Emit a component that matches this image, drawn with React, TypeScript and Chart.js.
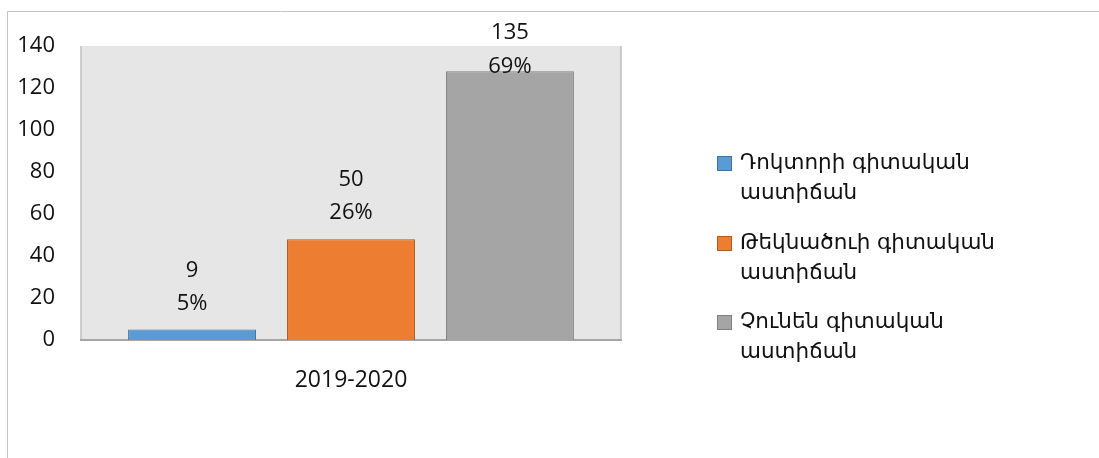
import React, { useEffect, useRef } from "react";
import { Chart, registerables } from "chart.js";

Chart.register(...registerables);

const categories = ["2019-2020"];
const seriesNames = [
  ["Դոկտորի գիտական", "աստիճան"],
  ["Թեկնածուի գիտական", "աստիճան"],
  ["Չունեն գիտական", "աստիճան"],
];
const seriesValues = [5, 48, 128];
const labelCounts = ["9", "50", "135"];
const labelPercents = ["5%", "26%", "69%"];
const fills = ["#5b9bd5", "#ed7d31", "#a5a5a5"];
const borders = ["#41719c", "#ae5a21", "#7f7f7f"];
const yTicks = [0, 20, 40, 60, 80, 100, 120, 140];

const FONT = "'Open Sans', 'Noto Sans', sans-serif";
const ARM_FONT = "'DejaVu Sans', 'Noto Sans', sans-serif";

const framePlugin = {
  id: "frame",
  beforeDraw(chart: any) {
    const { ctx, chartArea } = chart;
    ctx.save();
    ctx.strokeStyle = "#c6c6c6";
    ctx.lineWidth = 1;
    ctx.beginPath();
    ctx.moveTo(7.5, 470);
    ctx.lineTo(7.5, 11.5);
    ctx.lineTo(1110, 11.5);
    ctx.stroke();
    ctx.fillStyle = "#e7e6e6";
    ctx.fillRect(chartArea.left, chartArea.top, chartArea.right - chartArea.left, chartArea.bottom - chartArea.top);
    ctx.strokeStyle = "#bfbfbf";
    ctx.lineWidth = 1.5;
    ctx.beginPath();
    ctx.moveTo(chartArea.left, chartArea.top);
    ctx.lineTo(chartArea.left, chartArea.bottom);
    ctx.moveTo(chartArea.right, chartArea.top);
    ctx.lineTo(chartArea.right, chartArea.bottom);
    ctx.stroke();
    ctx.restore();
  },
  afterDraw(chart: any) {
    const { ctx, chartArea } = chart;
    ctx.save();
    // data labels
    ctx.fillStyle = "#111";
    ctx.font = `22px ${FONT}`;
    ctx.textAlign = "center";
    ctx.textBaseline = "middle";
    chart.data.datasets.forEach((ds: any, i: number) => {
      const meta = chart.getDatasetMeta(i);
      const bar = meta.data[0];
      let y2 = bar.y - 26;
      let y1 = y2 - 33;
      const minY1 = chartArea.top - 13;
      if (y1 < minY1) {
        y1 = minY1;
        y2 = y1 + 34;
      }
      ctx.fillText(labelCounts[i], bar.x, y1);
      ctx.fillText(labelPercents[i], bar.x, y2);
    });
    // legend
    const lx = 717;
    const itemY = [163, 243, 322];
    ctx.textAlign = "left";
    ctx.font = `21.5px ${ARM_FONT}`;
    seriesNames.forEach((lines, i) => {
      const y = itemY[i];
      ctx.fillStyle = fills[i];
      ctx.fillRect(lx, y - 7, 15, 15);
      ctx.strokeStyle = borders[i];
      ctx.lineWidth = 1;
      ctx.strokeRect(lx + 0.5, y - 6.5, 14, 14);
      ctx.fillStyle = "#111";
      lines.forEach((t, j) => {
        ctx.fillText(t, 740, y + j * 30);
      });
    });
    ctx.restore();
  },
};

export default function App() {
  const ref = useRef<HTMLCanvasElement>(null);
  useEffect(() => {
    if (!ref.current) return;
    const chart = new Chart(ref.current, {
      type: "bar",
      data: {
        labels: categories,
        datasets: seriesValues.map((v, i) => ({
          label: seriesNames[i].join(" "),
          data: [v],
          backgroundColor: fills[i],
          borderColor: borders[i],
          borderWidth: 1,
          categoryPercentage: 0.883,
          barPercentage: 0.805,
        })),
      },
      options: {
        responsive: false,
        animation: false,
        layout: { padding: { left: 0, right: 478, top: 46, bottom: 0 } },
        plugins: {
          legend: { display: false },
          tooltip: { enabled: false },
        },
        scales: {
          x: {
            grid: { display: false, drawTicks: false },
            border: { display: true, color: "#a6a6a6", width: 2 },
            ticks: { color: "#111", font: { family: FONT, size: 23 }, padding: 27 },
            afterFit: (s: any) => { s.height = 118; },
          },
          y: {
            min: 0,
            max: 140,
            grid: { display: false, drawTicks: false },
            border: { display: false },
            afterBuildTicks: (s: any) => { s.ticks = yTicks.map((v) => ({ value: v })); },
            ticks: { color: "#111", font: { family: FONT, size: 22 }, padding: 26 },
            afterFit: (s: any) => { s.width = 81; },
          },
        },
      },
      plugins: [framePlugin],
    });
    return () => chart.destroy();
  }, []);
  return (
    <div style={{ position: "fixed", left: 0, top: 0, width: 1099, height: 458, background: "#fff" }}>
      <canvas ref={ref} width={1099} height={458} style={{ width: 1099, height: 458, display: "block" }} />
    </div>
  );
}
